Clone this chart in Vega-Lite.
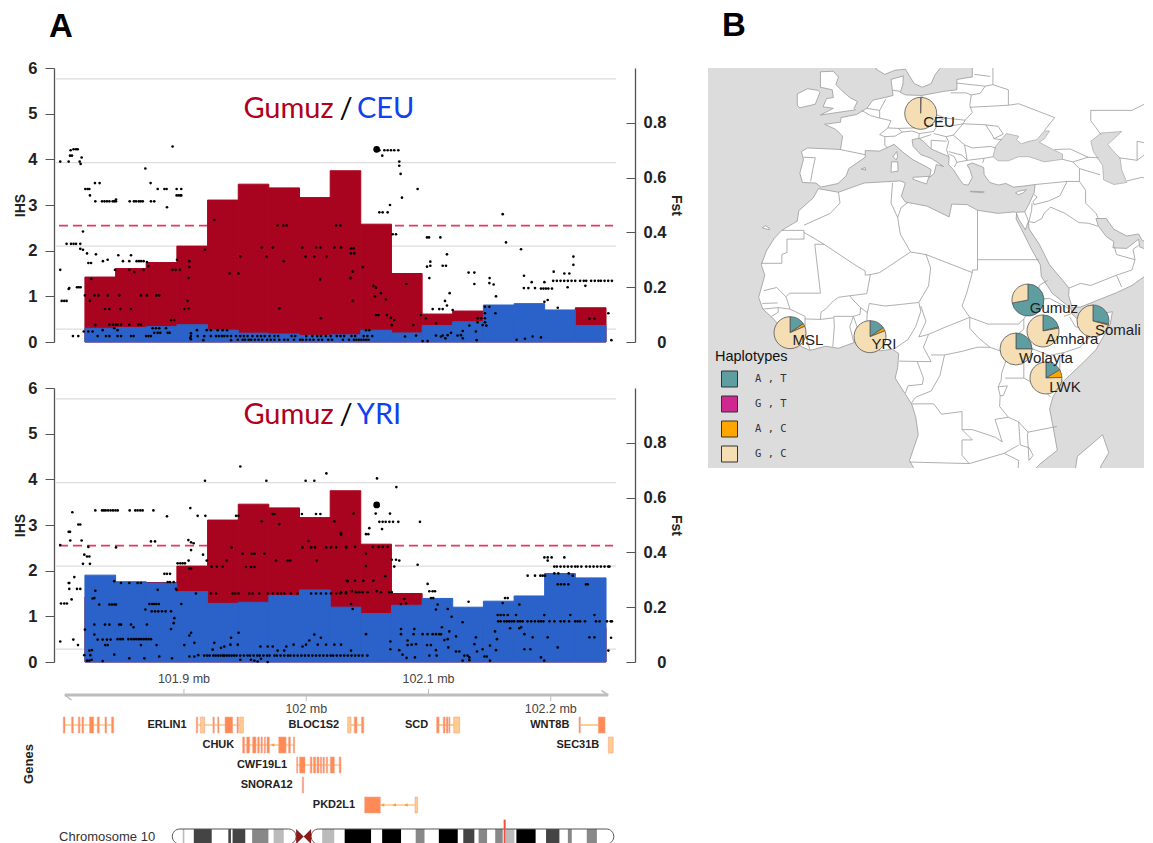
{"$schema":"https://vega.github.io/schema/vega-lite/v6.json","padding":{"left":13,"top":9,"right":9,"bottom":0},"background":"white","config":{"view":{"stroke":null},"font":"Liberation Sans"},
"resolve":{"scale":{"color":"independent"}},
"datasets":{
"lines":[{"ihs":5.76},{"ihs":3.93},{"ihs":2.1},{"ihs":0.28}],
"thresh":[{"ihs":2.55}],
"bars":[
{"start":-81,"end":-55.9,"gumuz":0.237,"ceu":0.05,"yri":0.317},{"start":-55.9,"end":-30.9,"gumuz":0.268,"ceu":0.053,"yri":0.293},{"start":-30.9,"end":-5.8,"gumuz":0.29,"ceu":0.056,"yri":0.288},{"start":-5.8,"end":19.3,"gumuz":0.35,"ceu":0.063,"yri":0.257},{"start":19.3,"end":44.4,"gumuz":0.518,"ceu":0.043,"yri":0.214},{"start":44.4,"end":69.4,"gumuz":0.576,"ceu":0.032,"yri":0.218},{"start":69.4,"end":94.5,"gumuz":0.5625,"ceu":0.029,"yri":0.243},{"start":94.5,"end":119.6,"gumuz":0.527,"ceu":0.024,"yri":0.263},{"start":119.6,"end":144.6,"gumuz":0.625,"ceu":0.026,"yri":0.2},{"start":144.6,"end":169.7,"gumuz":0.43,"ceu":0.043,"yri":0.177},{"start":169.7,"end":194.8,"gumuz":0.25,"ceu":0.033,"yri":0.207},{"start":194.8,"end":219.8,"gumuz":0.102,"ceu":0.06,"yri":0.232},{"start":219.8,"end":244.9,"gumuz":0.113,"ceu":0.074,"yri":0.2},{"start":244.9,"end":270,"gumuz":0.1,"ceu":0.135,"yri":0.222},{"start":270,"end":295,"gumuz":0.08,"ceu":0.14,"yri":0.241},{"start":295,"end":320.1,"gumuz":0.08,"ceu":0.117,"yri":0.323},{"start":320.1,"end":345.2,"gumuz":0.125,"ceu":0.06,"yri":0.307}],
"ceuDots":[
{"kb":-101.2,"ihs":3.95},{"kb":-94.3,"ihs":3.95},{"kb":-93.2,"ihs":4.08},{"kb":-91.6,"ihs":4.08},{"kb":-92.7,"ihs":4.2},{"kb":-90.3,"ihs":4.22},{"kb":-88.3,"ihs":4.22},{"kb":-86.9,"ihs":4.22},{"kb":-83.7,"ihs":4.04},{"kb":-85.3,"ihs":3.95},{"kb":-84.5,"ihs":3.9},{"kb":-80.7,"ihs":3.35},{"kb":-78.8,"ihs":3.35},{"kb":-77.4,"ihs":3.35},{"kb":-76.9,"ihs":3.21},{"kb":-72.8,"ihs":3.48},{"kb":-69,"ihs":3.48},{"kb":-72.5,"ihs":3.08},{"kb":-67,"ihs":3.08},{"kb":-65,"ihs":3.08},{"kb":-63,"ihs":3.08},{"kb":-61,"ihs":3.08},{"kb":-58.3,"ihs":3.08},{"kb":-57,"ihs":3.08},{"kb":-55.6,"ihs":3.08},{"kb":-55.6,"ihs":3.12},{"kb":-44.4,"ihs":3.08},{"kb":-40.9,"ihs":3.08},{"kb":-39.2,"ihs":3.08},{"kb":-37,"ihs":3.08},{"kb":-35.4,"ihs":3.08},{"kb":-33.7,"ihs":3.08},{"kb":-31.6,"ihs":3.8},{"kb":-27.3,"ihs":3.48},{"kb":-27,"ihs":3.08},{"kb":-24.3,"ihs":3.08},{"kb":-21.5,"ihs":3.35},{"kb":-16,"ihs":3.35},{"kb":-14.2,"ihs":3.35},{"kb":-13.9,"ihs":2.95},{"kb":-9.3,"ihs":4.28},{"kb":-6,"ihs":3.35},{"kb":-2.2,"ihs":3.35},{"kb":-6,"ihs":3.21},{"kb":-4.5,"ihs":3.21},{"kb":-3,"ihs":3.21},{"kb":-2.2,"ihs":3.21},
{"kb":-101.2,"ihs":1.58},{"kb":-96,"ihs":2.15},{"kb":-92.4,"ihs":2.15},{"kb":-90.3,"ihs":2.15},{"kb":-88.3,"ihs":2.15},{"kb":-84.8,"ihs":2.15},{"kb":-82.6,"ihs":2.42},{"kb":-84.8,"ihs":2.04},{"kb":-82.6,"ihs":2.02},{"kb":-79.3,"ihs":1.94},{"kb":-72,"ihs":1.92},{"kb":-78.2,"ihs":1.73},{"kb":-76,"ihs":1.73},{"kb":-66.3,"ihs":1.77},{"kb":-62.4,"ihs":1.8},{"kb":-53.7,"ihs":1.9},{"kb":-43.3,"ihs":1.9},{"kb":-56.4,"ihs":1.58},{"kb":-44.7,"ihs":1.58},{"kb":-40.6,"ihs":1.53},{"kb":-49.9,"ihs":1.77},{"kb":-44.7,"ihs":1.77},{"kb":-38.7,"ihs":1.77},{"kb":-36.8,"ihs":1.77},{"kb":-35,"ihs":1.77},{"kb":-33,"ihs":1.77},{"kb":-30.3,"ihs":1.75},{"kb":-33,"ihs":1.58},{"kb":-29.2,"ihs":1.66},{"kb":-9.5,"ihs":1.58},{"kb":-6.8,"ihs":1.58},{"kb":-3.3,"ihs":1.58},{"kb":-5.7,"ihs":1.8},{"kb":4.4,"ihs":1.77},{"kb":4.4,"ihs":1.64},{"kb":3.8,"ihs":1.4},{"kb":17.2,"ihs":2.02},{"kb":24.8,"ihs":2.67},{"kb":37.4,"ihs":1.5},{"kb":44.5,"ihs":1.5},{"kb":46.1,"ihs":1.87},{"kb":63.6,"ihs":2.07},{"kb":72.6,"ihs":2.07},{"kb":67.6,"ihs":1.87},{"kb":76.6,"ihs":2.55},{"kb":81.3,"ihs":2.55},{"kb":84,"ihs":2.55},{"kb":81.6,"ihs":1.77},{"kb":96.8,"ihs":2.07},{"kb":99.5,"ihs":1.87},{"kb":106.6,"ihs":1.87},{"kb":108,"ihs":2.07},{"kb":111.6,"ihs":2.07},{"kb":116.5,"ihs":1.87},{"kb":124.4,"ihs":2.55},{"kb":127.9,"ihs":2.55},{"kb":123,"ihs":2.07},{"kb":128.5,"ihs":2.07},{"kb":111.3,"ihs":1.37},{"kb":78,"ihs":0.74},{"kb":112,"ihs":0.52},{"kb":136,"ihs":1.4},{"kb":136.6,"ihs":1.94},
{"kb":-100,"ihs":0.9},{"kb":-97.9,"ihs":0.9},{"kb":-96,"ihs":0.9},{"kb":-93.8,"ihs":1.18},{"kb":-94.3,"ihs":1.16},{"kb":-87.5,"ihs":1.2},{"kb":-86,"ihs":1.2},{"kb":-84.5,"ihs":1.2},{"kb":-81,"ihs":1.02},{"kb":-73.3,"ihs":1.02},{"kb":-70,"ihs":1.02},{"kb":-76.9,"ihs":0.9},{"kb":-75.8,"ihs":1.38},{"kb":-62.4,"ihs":1.02},{"kb":-52.9,"ihs":1.02},{"kb":-35.2,"ihs":1.02},{"kb":-30.3,"ihs":1.02},{"kb":-22.6,"ihs":1.02},{"kb":-20.2,"ihs":1.02},{"kb":-64.6,"ihs":0.72},{"kb":-61,"ihs":0.72},{"kb":-52,"ihs":0.72},{"kb":-43.3,"ihs":0.72},{"kb":0.3,"ihs":0.72},{"kb":3.6,"ihs":0.74},{"kb":3,"ihs":0.9},
{"kb":-90.8,"ihs":0.13},{"kb":-86.4,"ihs":0.13},{"kb":-82,"ihs":0.23},{"kb":-78.2,"ihs":0.23},{"kb":-74.7,"ihs":0.23},{"kb":-72.5,"ihs":0.37},{"kb":-70.6,"ihs":0.13},{"kb":-66.5,"ihs":0.26},{"kb":-63.8,"ihs":0.13},{"kb":-61,"ihs":0.13},{"kb":-54.3,"ihs":0.13},{"kb":-51.5,"ihs":0.13},{"kb":-61,"ihs":0.38},{"kb":-58,"ihs":0.38},{"kb":-55.6,"ihs":0.38},{"kb":-54.3,"ihs":0.38},{"kb":-51.5,"ihs":0.38},{"kb":-57,"ihs":0.3},{"kb":-54.3,"ihs":0.26},{"kb":-44.7,"ihs":0.38},{"kb":-37.4,"ihs":0.38},{"kb":-35.2,"ihs":0.38},{"kb":-43.3,"ihs":0.13},{"kb":-41.2,"ihs":0.13},{"kb":-31,"ihs":0.13},{"kb":-29,"ihs":0.13},{"kb":-27,"ihs":0.13},{"kb":-25.6,"ihs":0.3},{"kb":-22.9,"ihs":0.3},{"kb":-20.2,"ihs":0.3},{"kb":-14.7,"ihs":0.3},{"kb":-24.3,"ihs":0.2},{"kb":-21.5,"ihs":0.2},{"kb":-19.4,"ihs":0.2},{"kb":-13.3,"ihs":0.2},{"kb":-11.7,"ihs":0.2},{"kb":-10.6,"ihs":0.48},{"kb":-7.9,"ihs":0.48},{"kb":5.7,"ihs":0.19},{"kb":5.7,"ihs":0.13},{"kb":5.7,"ihs":0.06},{"kb":5.2,"ihs":0.09},{"kb":10.6,"ihs":0.26},{"kb":11.2,"ihs":0.13},{"kb":15.8,"ihs":0.04},{"kb":16.6,"ihs":0.13},{"kb":18.6,"ihs":0.26},{"kb":22,"ihs":0.26},{"kb":27.6,"ihs":0.26},{"kb":31.6,"ihs":0.26},{"kb":35.2,"ihs":0.26},{"kb":22,"ihs":0.13},{"kb":26.2,"ihs":0.13},{"kb":28.5,"ihs":0.13},{"kb":31,"ihs":0.13},{"kb":33,"ihs":0.13},{"kb":35.5,"ihs":0.13},{"kb":38.5,"ihs":0.13},{"kb":38.5,"ihs":0.04},
{"kb":42.6,"ihs":0.13},{"kb":46,"ihs":0.13},{"kb":49,"ihs":0.13},{"kb":52,"ihs":0.13},{"kb":56,"ihs":0.13},{"kb":60,"ihs":0.13},{"kb":63,"ihs":0.13},{"kb":66,"ihs":0.13},{"kb":70,"ihs":0.13},{"kb":74,"ihs":0.13},{"kb":77,"ihs":0.13},{"kb":88,"ihs":0.13},{"kb":91,"ihs":0.13},{"kb":100,"ihs":0.13},{"kb":105,"ihs":0.13},{"kb":109,"ihs":0.13},{"kb":112,"ihs":0.13},{"kb":116,"ihs":0.13},{"kb":120,"ihs":0.13},{"kb":125,"ihs":0.13},{"kb":128,"ihs":0.13},{"kb":131,"ihs":0.13},{"kb":137,"ihs":0.13},{"kb":140,"ihs":0.13},{"kb":147,"ihs":0.13},{"kb":150,"ihs":0.13},{"kb":154,"ihs":0.13},
{"kb":44,"ihs":0.05},{"kb":48,"ihs":0.05},{"kb":50,"ihs":0.05},{"kb":53,"ihs":0.05},{"kb":55,"ihs":0.05},{"kb":58,"ihs":0.05},{"kb":61,"ihs":0.05},{"kb":64,"ihs":0.05},{"kb":68,"ihs":0.05},{"kb":71,"ihs":0.05},{"kb":74,"ihs":0.05},{"kb":78,"ihs":0.05},{"kb":82,"ihs":0.05},{"kb":85,"ihs":0.05},{"kb":90,"ihs":0.05},{"kb":95,"ihs":0.05},{"kb":97,"ihs":0.05},{"kb":100,"ihs":0.05},{"kb":103,"ihs":0.05},{"kb":106,"ihs":0.05},{"kb":110,"ihs":0.05},{"kb":113,"ihs":0.05},{"kb":118,"ihs":0.05},{"kb":121,"ihs":0.05},{"kb":130,"ihs":0.05},{"kb":135,"ihs":0.05},{"kb":139,"ihs":0.05},{"kb":141,"ihs":0.05},{"kb":143,"ihs":0.05},{"kb":145,"ihs":0.05},{"kb":147,"ihs":0.05},{"kb":149,"ihs":0.05},{"kb":151,"ihs":0.05},{"kb":148.9,"ihs":0.26},{"kb":151.6,"ihs":0.26},
{"kb":159.8,"ihs":4.2},{"kb":163.9,"ihs":4.2},{"kb":166.6,"ihs":4.2},{"kb":169.3,"ihs":4.2},{"kb":172,"ihs":4.2},{"kb":175.3,"ihs":4.2},{"kb":162.2,"ihs":4.08},{"kb":176.1,"ihs":3.95},{"kb":176.1,"ihs":3.86},{"kb":177.2,"ihs":3.68},{"kb":191.1,"ihs":3.35},{"kb":178.3,"ihs":3.16},{"kb":168.5,"ihs":3},{"kb":159.8,"ihs":2.84},{"kb":162.5,"ihs":2.84},{"kb":166.6,"ihs":2.84},{"kb":170.7,"ihs":2.36},{"kb":173.4,"ihs":2.36},{"kb":198.8,"ihs":2.29},{"kb":200.4,"ihs":2.29},{"kb":209.7,"ihs":2.29},{"kb":215.1,"ihs":1.92},{"kb":201.5,"ihs":1.76},{"kb":201.5,"ihs":1.67},{"kb":198.8,"ihs":1.65},{"kb":211.6,"ihs":1.67},{"kb":214.3,"ihs":1.67},{"kb":200.7,"ihs":1.4},{"kb":232.8,"ihs":1.52},{"kb":237.5,"ihs":1.52},{"kb":237.5,"ihs":1.27},{"kb":250,"ihs":1.4},{"kb":249.8,"ihs":1.29},{"kb":253.3,"ihs":1.26},{"kb":217.3,"ihs":1.07},{"kb":213.5,"ihs":0.9},{"kb":215.1,"ihs":0.8},{"kb":219.8,"ihs":0.7},{"kb":203.4,"ihs":0.72},{"kb":208.8,"ihs":0.72},{"kb":211.6,"ihs":0.72},{"kb":181.8,"ihs":1.27},{"kb":154.9,"ihs":1.23},{"kb":157,"ihs":1.19},{"kb":156.2,"ihs":1},{"kb":161.1,"ihs":1.07},{"kb":165.2,"ihs":0.93},{"kb":136.6,"ihs":2.05},{"kb":138.8,"ihs":2.05},{"kb":139.3,"ihs":1.94},{"kb":136.6,"ihs":1.4},{"kb":138,"ihs":1.54},{"kb":138,"ihs":0.9},{"kb":146.1,"ihs":1.64},{"kb":255.2,"ihs":1},{"kb":260.7,"ihs":2.8},{"kb":263.4,"ihs":2.18},{"kb":275.7,"ihs":2.03},{"kb":278.1,"ihs":1.45},{"kb":278,"ihs":1.18},{"kb":281.7,"ihs":1.18},{"kb":287.1,"ihs":1.18},{"kb":284.4,"ihs":1.31},{"kb":292,"ihs":1.17},{"kb":294,"ihs":1.17},{"kb":296,"ihs":1.17},{"kb":298,"ihs":1.17},{"kb":301,"ihs":1.17},{"kb":294.8,"ihs":1.31},{"kb":302.4,"ihs":1.54},{"kb":311.1,"ihs":1.5},
{"kb":302,"ihs":1.34},{"kb":305,"ihs":1.34},{"kb":308,"ihs":1.34},{"kb":311,"ihs":1.34},{"kb":314,"ihs":1.34},{"kb":317,"ihs":1.34},{"kb":320,"ihs":1.34},{"kb":324,"ihs":1.34},{"kb":327,"ihs":1.34},{"kb":329,"ihs":1.34},{"kb":333,"ihs":1.34},{"kb":336,"ihs":1.34},{"kb":339,"ihs":1.34},{"kb":341,"ihs":1.34},{"kb":344,"ihs":1.34},{"kb":347,"ihs":1.34},{"kb":350,"ihs":1.34},{"kb":318.5,"ihs":1.87},{"kb":318.5,"ihs":1.69},{"kb":315.2,"ihs":1.5},{"kb":313.8,"ihs":1.2},{"kb":328.3,"ihs":1.23},{"kb":294.8,"ihs":0.88},{"kb":297.5,"ihs":0.92},{"kb":305.7,"ihs":0.75},{"kb":347.1,"ihs":0.63},{"kb":349.6,"ihs":0.04},{"kb":331.6,"ihs":0.51},{"kb":335.7,"ihs":0.51},{"kb":285.2,"ihs":0.12},{"kb":292,"ihs":0.1},{"kb":272.1,"ihs":0.05},{"kb":278.9,"ihs":0.07},{"kb":254.7,"ihs":0.63},{"kb":240.2,"ihs":0.52},{"kb":243,"ihs":0.52},{"kb":246.2,"ihs":0.77},{"kb":249.8,"ihs":0.77},{"kb":246.2,"ihs":0.63},{"kb":246.2,"ihs":0.52},{"kb":246.2,"ihs":0.43},{"kb":244.3,"ihs":0.37},{"kb":247.3,"ihs":0.36},{"kb":240.2,"ihs":0.43},{"kb":239.4,"ihs":0.04},{"kb":233.4,"ihs":0.36},{"kb":238.8,"ihs":0.23},{"kb":211.6,"ihs":0.14},{"kb":210.2,"ihs":0.12},{"kb":215.7,"ihs":0.15},{"kb":218.4,"ihs":0.2},{"kb":223.8,"ihs":0.14},{"kb":226.6,"ihs":0.15},{"kb":228,"ihs":0.08},{"kb":228,"ihs":0.24},{"kb":195.2,"ihs":0.02},{"kb":199.3,"ihs":0.02},{"kb":180.8,"ihs":0.12},{"kb":189.8,"ihs":0.14},{"kb":206.1,"ihs":0.14},{"kb":213.8,"ihs":0.08},{"kb":206.1,"ihs":0.41},{"kb":193.8,"ihs":0.59},{"kb":197.9,"ihs":0.52},{"kb":187.6,"ihs":0.37},{"kb":157,"ihs":0.59},{"kb":159,"ihs":0.59},{"kb":166,"ihs":0.59},{"kb":169.3,"ihs":0.53},{"kb":172,"ihs":0.48},{"kb":169.9,"ihs":0.37}],
"yriDots":[
{"kb":-101.2,"ihs":2.56},{"kb":-91.3,"ihs":3.28},{"kb":-93.2,"ihs":2.85},{"kb":-94.3,"ihs":2.85},{"kb":-93,"ihs":2.66},{"kb":-86.4,"ihs":3.01},{"kb":-84.8,"ihs":3.01},{"kb":-83.7,"ihs":2.66},{"kb":-78.2,"ihs":2.52},{"kb":-81.5,"ihs":2.35},{"kb":-79.3,"ihs":2.31},{"kb":-77.4,"ihs":2.31},{"kb":-82.6,"ihs":2.15},{"kb":-76.9,"ihs":2.15},{"kb":-89.7,"ihs":1.86},{"kb":-94.3,"ihs":1.73},{"kb":-93.8,"ihs":1.73},{"kb":-93.8,"ihs":1.6},{"kb":-87.5,"ihs":1.6},{"kb":-84.8,"ihs":1.6},{"kb":-100.6,"ihs":1.28},{"kb":-97.9,"ihs":1.28},{"kb":-95.7,"ihs":1.28},{"kb":-91.9,"ihs":1.37},{"kb":-101.2,"ihs":0.45},{"kb":-90.5,"ihs":0.49},{"kb":-86.7,"ihs":0.37},
{"kb":-72.5,"ihs":3.32},{"kb":-67,"ihs":3.32},{"kb":-65.5,"ihs":3.32},{"kb":-64,"ihs":3.32},{"kb":-62,"ihs":3.32},{"kb":-60,"ihs":3.32},{"kb":-58,"ihs":3.32},{"kb":-56,"ihs":3.32},{"kb":-54.2,"ihs":3.32},{"kb":-44.4,"ihs":3.32},{"kb":-39.8,"ihs":3.32},{"kb":-37.9,"ihs":3.32},{"kb":-35.7,"ihs":3.32},{"kb":-33.8,"ihs":3.32},{"kb":-25,"ihs":3.32},{"kb":-13.9,"ihs":3.19},{"kb":-55.6,"ihs":2.51},{"kb":-27,"ihs":2.64},{"kb":-23.7,"ihs":2.64},{"kb":5.2,"ihs":3.37},{"kb":11.2,"ihs":3.2},{"kb":17.5,"ihs":3.2},{"kb":17.2,"ihs":3.97},{"kb":3.6,"ihs":2.67},{"kb":5.8,"ihs":2.62},{"kb":7.9,"ihs":2.6},{"kb":5.8,"ihs":2.45},{"kb":15.6,"ihs":2.35},{"kb":18.6,"ihs":2.22},{"kb":-5.2,"ihs":2.16},{"kb":-3,"ihs":2.16},{"kb":-1.1,"ihs":2.16},{"kb":0.8,"ihs":2.16},{"kb":3.8,"ihs":2.22},{"kb":4.4,"ihs":2.05},{"kb":5.8,"ihs":2.05},{"kb":-16,"ihs":1.93},{"kb":-13.9,"ihs":1.93},{"kb":-11.4,"ihs":1.93},{"kb":-13.3,"ihs":1.75},{"kb":-11.4,"ihs":1.75},{"kb":-8.4,"ihs":1.75},{"kb":-21.5,"ihs":1.58},{"kb":-6.5,"ihs":1.6},{"kb":-6,"ihs":1.58},{"kb":9.8,"ihs":1.5},{"kb":-73.3,"ihs":1.4},{"kb":-74.7,"ihs":1.39},{"kb":-72.5,"ihs":1.56},{"kb":-69.3,"ihs":1.26},{"kb":-61,"ihs":1.26},{"kb":-59,"ihs":1.26},{"kb":-57,"ihs":1.26},{"kb":-55.6,"ihs":1.26},{"kb":-57,"ihs":1.77},{"kb":-51.5,"ihs":1.73},{"kb":-44.7,"ihs":1.73},{"kb":-37.9,"ihs":1.73},{"kb":-35.2,"ihs":1.73},{"kb":-31.6,"ihs":1.15},{"kb":-28.3,"ihs":1.27},{"kb":-26,"ihs":1.27},{"kb":-24.3,"ihs":1.27},{"kb":-22.6,"ihs":1.27},{"kb":-20.6,"ihs":1.27},{"kb":-26.4,"ihs":1.11},{"kb":-23.7,"ihs":1.11},{"kb":-21,"ihs":1.11},{"kb":-18,"ihs":1.11},{"kb":-15,"ihs":1.11},{"kb":-10.6,"ihs":1.11},{"kb":-2.2,"ihs":1.27},{"kb":-7.9,"ihs":0.96},{"kb":-8.4,"ihs":0.85},{"kb":-10.6,"ihs":0.72},{"kb":-81,"ihs":0.71},{"kb":-73.3,"ihs":0.82},{"kb":-64.6,"ihs":0.82},{"kb":-61,"ihs":0.82},{"kb":-52.9,"ihs":0.82},{"kb":-51.5,"ihs":0.82},{"kb":-43.3,"ihs":0.82},{"kb":-41.2,"ihs":0.76},{"kb":-30.3,"ihs":0.82},{"kb":-73.3,"ihs":0.6},{"kb":-70.6,"ihs":0.49},{"kb":-66.5,"ihs":0.49},{"kb":-63,"ihs":0.49},{"kb":-60,"ihs":0.49},{"kb":-54.3,"ihs":0.5},{"kb":-52,"ihs":0.5},{"kb":-50,"ihs":0.5},{"kb":-45.5,"ihs":0.5},{"kb":-43,"ihs":0.5},{"kb":-41,"ihs":0.5},{"kb":-39,"ihs":0.5},{"kb":-37,"ihs":0.5},{"kb":-35,"ihs":0.5},{"kb":-33,"ihs":0.5},{"kb":-31,"ihs":0.5},{"kb":-29,"ihs":0.5},{"kb":-27,"ihs":0.5},{"kb":-64.4,"ihs":0.37},{"kb":-62.4,"ihs":0.37},{"kb":-35.2,"ihs":0.37},{"kb":-22.4,"ihs":0.37},{"kb":-57,"ihs":0.16},{"kb":-44.7,"ihs":0.08},{"kb":-32.4,"ihs":0.08},{"kb":-20.2,"ihs":0.12},{"kb":-9.8,"ihs":0.08},{"kb":-81.5,"ihs":0.15},{"kb":-76.6,"ihs":0.15},{"kb":-77.4,"ihs":0.25},{"kb":-75.3,"ihs":0.26},{"kb":-79.3,"ihs":0.03},{"kb":-77.4,"ihs":0.03},{"kb":-75.5,"ihs":0.05},{"kb":-66.5,"ihs":0.02},{"kb":0.3,"ihs":0.37},{"kb":4.4,"ihs":0.58},{"kb":5.8,"ihs":0.64},{"kb":8.5,"ihs":0.42},{"kb":4.4,"ihs":0.12},{"kb":8.5,"ihs":0.12},{"kb":11.7,"ihs":0.15},
{"kb":16.6,"ihs":0.14},{"kb":19,"ihs":0.14},{"kb":21,"ihs":0.14},{"kb":24,"ihs":0.14},{"kb":26,"ihs":0.14},{"kb":28,"ihs":0.14},{"kb":30,"ihs":0.14},{"kb":32,"ihs":0.14},{"kb":33,"ihs":0.14},{"kb":35,"ihs":0.14},{"kb":37,"ihs":0.14},{"kb":39,"ihs":0.14},{"kb":41,"ihs":0.14},{"kb":43,"ihs":0.14},{"kb":46,"ihs":0.14},{"kb":49,"ihs":0.14},{"kb":52,"ihs":0.14},{"kb":54,"ihs":0.14},{"kb":57,"ihs":0.14},{"kb":60,"ihs":0.14},{"kb":62,"ihs":0.14},{"kb":65,"ihs":0.14},{"kb":68,"ihs":0.14},{"kb":70,"ihs":0.14},{"kb":74,"ihs":0.14},{"kb":76,"ihs":0.14},{"kb":79,"ihs":0.14},{"kb":82,"ihs":0.14},{"kb":85,"ihs":0.14},{"kb":87,"ihs":0.14},{"kb":90,"ihs":0.14},{"kb":93,"ihs":0.14},{"kb":96,"ihs":0.14},{"kb":99,"ihs":0.14},{"kb":102,"ihs":0.14},{"kb":105,"ihs":0.14},{"kb":108,"ihs":0.14},{"kb":111,"ihs":0.14},{"kb":114,"ihs":0.14},{"kb":117,"ihs":0.14},{"kb":120,"ihs":0.14},{"kb":122,"ihs":0.14},{"kb":125,"ihs":0.14},{"kb":128,"ihs":0.14},{"kb":131,"ihs":0.14},{"kb":134,"ihs":0.14},{"kb":137,"ihs":0.14},{"kb":140,"ihs":0.14},{"kb":143,"ihs":0.14},{"kb":146,"ihs":0.14},{"kb":150,"ihs":0.14},
{"kb":24.8,"ihs":0.42},{"kb":23.5,"ihs":0.27},{"kb":30.3,"ihs":0.31},{"kb":33,"ihs":0.34},{"kb":38.5,"ihs":0.53},{"kb":38,"ihs":0.38},{"kb":44,"ihs":0.38},{"kb":44.7,"ihs":0.64},{"kb":46.1,"ihs":0.05},{"kb":54.8,"ihs":0.05},{"kb":57.6,"ihs":0.03},{"kb":60.3,"ihs":0.01},{"kb":63,"ihs":0.07},{"kb":68.5,"ihs":0},{"kb":62.5,"ihs":0.34},{"kb":68.5,"ihs":0.34},{"kb":72.6,"ihs":0.34},{"kb":76.6,"ihs":0.25},{"kb":82,"ihs":0.25},{"kb":83.7,"ihs":0.34},{"kb":89.7,"ihs":0.38},{"kb":97,"ihs":0.34},{"kb":99.8,"ihs":0.38},{"kb":102.5,"ihs":0.47},{"kb":106.6,"ihs":0.6},{"kb":112,"ihs":0.53},{"kb":109.4,"ihs":0.38},{"kb":116.2,"ihs":0.38},{"kb":123,"ihs":0.38},{"kb":128.5,"ihs":0.38},{"kb":136.6,"ihs":0.25},
{"kb":22,"ihs":1.5},{"kb":26.2,"ihs":1.5},{"kb":39.8,"ihs":1.5},{"kb":42,"ihs":1.5},{"kb":44.5,"ihs":1.5},{"kb":53.5,"ihs":1.5},{"kb":56.2,"ihs":1.5},{"kb":61.6,"ihs":1.5},{"kb":68.5,"ihs":1.5},{"kb":72.6,"ihs":1.5},{"kb":76.6,"ihs":1.5},{"kb":79.4,"ihs":1.5},{"kb":82.1,"ihs":1.5},{"kb":87.5,"ihs":1.5},{"kb":93,"ihs":1.5},{"kb":104,"ihs":1.5},{"kb":108,"ihs":1.5},{"kb":112,"ihs":1.5},{"kb":116.2,"ihs":1.5},{"kb":120.3,"ihs":1.5},{"kb":124.4,"ihs":1.5},{"kb":127.9,"ihs":1.5},{"kb":132.5,"ihs":1.5},{"kb":22.6,"ihs":2.09},{"kb":27,"ihs":2.09},{"kb":31.6,"ihs":2.09},{"kb":35,"ihs":2.22},{"kb":39,"ihs":2.51},{"kb":42.6,"ihs":3.2},{"kb":44.5,"ihs":3.2},{"kb":63.6,"ihs":3.08},{"kb":72.6,"ihs":3.24},{"kb":74,"ihs":3.24},{"kb":78,"ihs":3.02},{"kb":96.5,"ihs":3.24},{"kb":108,"ihs":3.24},{"kb":111.6,"ihs":3.24},{"kb":123,"ihs":3.08},{"kb":128.5,"ihs":2.79},{"kb":46.1,"ihs":4.28},{"kb":67.4,"ihs":3.97},{"kb":99.5,"ihs":3.97},{"kb":106.6,"ihs":3.97},{"kb":116.5,"ihs":4.13},{"kb":48,"ihs":2.37},{"kb":55.4,"ihs":2.37},{"kb":57.6,"ihs":2.37},{"kb":65.7,"ihs":2.37},{"kb":50.7,"ihs":2.08},{"kb":54.8,"ihs":2.08},{"kb":57.6,"ihs":2.08},{"kb":75.3,"ihs":2.22},{"kb":84.8,"ihs":2.22},{"kb":87,"ihs":2.22},{"kb":97,"ihs":2.51},{"kb":104,"ihs":2.51},{"kb":107.2,"ihs":2.51},{"kb":116.2,"ihs":2.51},{"kb":120.3,"ihs":2.51},{"kb":124.4,"ihs":2.51},{"kb":132.8,"ihs":2.51},{"kb":101.7,"ihs":2.65},{"kb":108.6,"ihs":2.22},{"kb":133.9,"ihs":1.77},
{"kb":157.9,"ihs":4.02},{"kb":173.7,"ihs":3.83},{"kb":156.8,"ihs":3.25},{"kb":168.5,"ihs":3.25},{"kb":138.8,"ihs":3.25},{"kb":159.8,"ihs":3.07},{"kb":162.5,"ihs":3.07},{"kb":165,"ihs":3.07},{"kb":168,"ihs":3.07},{"kb":171,"ihs":3.07},{"kb":175.3,"ihs":3.07},{"kb":193,"ihs":3.07},{"kb":151.6,"ihs":2.93},{"kb":162,"ihs":2.91},{"kb":148.9,"ihs":2.8},{"kb":150.8,"ihs":2.8},{"kb":128.4,"ihs":2.82},{"kb":132.5,"ihs":2.52},{"kb":139.9,"ihs":2.52},{"kb":148.9,"ihs":2.37},{"kb":154.3,"ihs":2.52},{"kb":159.2,"ihs":2.52},{"kb":162.5,"ihs":2.52},{"kb":166.6,"ihs":2.52},{"kb":148.9,"ihs":2.1},{"kb":169.9,"ihs":2.24},{"kb":173.4,"ihs":2.24},{"kb":176.1,"ihs":2.22},{"kb":172,"ihs":2.09},{"kb":191.1,"ihs":2.13},{"kb":164.7,"ihs":1.88},{"kb":133.3,"ihs":1.78},{"kb":139.9,"ihs":1.78},{"kb":146.7,"ihs":1.78},{"kb":154.9,"ihs":1.78},{"kb":128.4,"ihs":1.53},{"kb":132.5,"ihs":1.53},{"kb":137.4,"ihs":1.55},{"kb":140.7,"ihs":1.53},{"kb":143.4,"ihs":1.53},{"kb":146.1,"ihs":1.53},{"kb":150.2,"ihs":1.53},{"kb":157.6,"ihs":1.55},{"kb":161.1,"ihs":1.53},{"kb":167.9,"ihs":1.53},{"kb":169.9,"ihs":1.53},{"kb":136.6,"ihs":1.27},{"kb":138,"ihs":1.16},{"kb":148.9,"ihs":0.61},{"kb":180.2,"ihs":1.38},{"kb":177.5,"ihs":1.27},{"kb":181.6,"ihs":1.28},{"kb":199.3,"ihs":1.71},{"kb":200.7,"ihs":1.55},{"kb":203.4,"ihs":1.55},{"kb":205.3,"ihs":1.55},{"kb":202,"ihs":1.4},{"kb":203.9,"ihs":1.4},{"kb":207.5,"ihs":1.26},{"kb":206.1,"ihs":1.15},{"kb":215.7,"ihs":1.16},{"kb":218.9,"ihs":0.99},{"kb":232.8,"ihs":1.32},{"kb":227.9,"ihs":0.87},{"kb":177.5,"ihs":0.72},{"kb":177.5,"ihs":0.61},{"kb":188.4,"ihs":0.72},{"kb":187.8,"ihs":0.61},{"kb":195.2,"ihs":0.61},{"kb":199.3,"ihs":0.61},{"kb":203.4,"ihs":0.61},{"kb":206.1,"ihs":0.61},{"kb":208.8,"ihs":0.61},{"kb":210.2,"ihs":0.61},{"kb":211,"ihs":0.76},{"kb":217,"ihs":0.67},{"kb":215.7,"ihs":0.5},{"kb":213,"ihs":0.48},{"kb":222.5,"ihs":0.56},{"kb":182.9,"ihs":0.47},{"kb":182.9,"ihs":0.37},{"kb":186.2,"ihs":0.38},{"kb":189.8,"ihs":0.39},{"kb":168.8,"ihs":0.45},{"kb":168.8,"ihs":0.28},{"kb":176.1,"ihs":0.26},{"kb":178.8,"ihs":0.16},{"kb":182.1,"ihs":0.09},{"kb":188.9,"ihs":0.1},{"kb":198.8,"ihs":0.37},{"kb":202,"ihs":0.37},{"kb":206.1,"ihs":0.26},{"kb":200.7,"ihs":0.14},{"kb":206.7,"ihs":0.14},{"kb":216.2,"ihs":0.32},{"kb":222.5,"ihs":0.23},{"kb":225.2,"ihs":0.23},{"kb":229.3,"ihs":0.14},{"kb":232,"ihs":0.14},{"kb":233.4,"ihs":0.04},{"kb":227.9,"ihs":0.03},{"kb":233.4,"ihs":0.1},{"kb":238.8,"ihs":0.54},{"kb":237.5,"ihs":0.39},{"kb":239.7,"ihs":0.23},{"kb":244.3,"ihs":0.28},{"kb":245.7,"ihs":0.12},{"kb":247.6,"ihs":0.12},{"kb":250.3,"ihs":0.03},{"kb":250.3,"ihs":0.36},{"kb":254.4,"ihs":0.67},{"kb":256,"ihs":0.5},{"kb":255.2,"ihs":0.26},{"kb":256.6,"ihs":1.03},{"kb":259,"ihs":1.03},{"kb":261.6,"ihs":1.03},{"kb":264.8,"ihs":1.03},{"kb":271.6,"ihs":1.03},{"kb":294.7,"ihs":1.03},{"kb":316,"ihs":1.03},
{"kb":257,"ihs":0.89},{"kb":259,"ihs":0.89},{"kb":262,"ihs":0.89},{"kb":264,"ihs":0.89},{"kb":266,"ihs":0.89},{"kb":268,"ihs":0.89},{"kb":270,"ihs":0.89},{"kb":273,"ihs":0.89},{"kb":275,"ihs":0.89},{"kb":277,"ihs":0.89},{"kb":281,"ihs":0.89},{"kb":284,"ihs":0.89},{"kb":287,"ihs":0.89},{"kb":290,"ihs":0.89},{"kb":292,"ihs":0.89},{"kb":294,"ihs":0.89},{"kb":299,"ihs":0.89},{"kb":303,"ihs":0.89},{"kb":308,"ihs":0.89},{"kb":311,"ihs":0.89},{"kb":315,"ihs":0.89},{"kb":320,"ihs":0.89},{"kb":322,"ihs":0.89},{"kb":324,"ihs":0.89},{"kb":328,"ihs":0.89},{"kb":337,"ihs":0.89},{"kb":340,"ihs":0.89},{"kb":346,"ihs":0.89},{"kb":349,"ihs":0.89},{"kb":350,"ihs":0.89},{"kb":275.7,"ihs":0.76},{"kb":266.7,"ihs":0.74},{"kb":274.3,"ihs":0.74},{"kb":278.4,"ihs":0.61},{"kb":285.2,"ihs":0.54},{"kb":297.5,"ihs":0.54},{"kb":305.7,"ihs":0.32},{"kb":278.4,"ihs":0.28},{"kb":283.3,"ihs":0.28},{"kb":292,"ihs":0.1},{"kb":294.7,"ihs":0.03},{"kb":260.7,"ihs":1.29},{"kb":262.6,"ihs":1.4},{"kb":264.8,"ihs":1.4},{"kb":274.3,"ihs":1.26},{"kb":281.1,"ihs":1.89},{"kb":287.1,"ihs":1.89},{"kb":291.5,"ihs":1.89},{"kb":293.4,"ihs":1.89},{"kb":295.3,"ihs":1.89},{"kb":302.9,"ihs":1.94},{"kb":306.2,"ihs":1.94},{"kb":314.7,"ihs":1.94},{"kb":318,"ihs":1.89},{"kb":294.8,"ihs":2.29},{"kb":297.5,"ihs":2.29},{"kb":300.7,"ihs":2.29},{"kb":311.1,"ihs":2.29},{"kb":297.5,"ihs":2.22},
{"kb":302.9,"ihs":2.09},{"kb":305,"ihs":2.09},{"kb":308,"ihs":2.09},{"kb":311,"ihs":2.09},{"kb":314,"ihs":2.09},{"kb":317,"ihs":2.09},{"kb":320,"ihs":2.09},{"kb":322,"ihs":2.09},{"kb":325,"ihs":2.09},{"kb":329,"ihs":2.09},{"kb":332,"ihs":2.09},{"kb":335,"ihs":2.09},{"kb":338,"ihs":2.09},{"kb":341,"ihs":2.09},{"kb":344,"ihs":2.09},{"kb":347,"ihs":2.09},{"kb":348,"ihs":2.09},{"kb":305.7,"ihs":1.7},{"kb":308.4,"ihs":1.7},{"kb":311.1,"ihs":1.7},{"kb":328.8,"ihs":1.7},{"kb":330.2,"ihs":1.7},{"kb":314.4,"ihs":1.7},{"kb":335.7,"ihs":1.03},{"kb":331.6,"ihs":0.54},{"kb":335.7,"ihs":0.54},{"kb":349.3,"ihs":0.53},{"kb":347.1,"ihs":0.25}],
"introns":[{"start":-98.7,"end":-57.3,"r":1},{"start":10.1,"end":48.6,"r":1},{"start":48,"end":90.5,"r":2},{"start":92.2,"end":128.4,"r":3},{"start":160.6,"end":189,"r":5},{"start":133.9,"end":147,"r":1},{"start":206.7,"end":225.5,"r":1},{"start":324.2,"end":338.9,"r":1}],
"exons":[
{"start":-98.7,"end":-97.3,"r":1,"kind":"cds"},{"start":-91.9,"end":-90.5,"r":1,"kind":"cds"},{"start":-86.4,"end":-85.1,"r":1,"kind":"cds"},{"start":-83.4,"end":-82.1,"r":1,"kind":"cds"},{"start":-77.2,"end":-73.9,"r":1,"kind":"cds"},{"start":-70.9,"end":-69.3,"r":1,"kind":"cds"},{"start":-64.6,"end":-63.3,"r":1,"kind":"cds"},{"start":-59.2,"end":-57.5,"r":1,"kind":"cds"},
{"start":10.1,"end":11.2,"r":1,"kind":"cds"},{"start":13.4,"end":16.9,"r":1,"kind":"utr"},{"start":23.7,"end":24.8,"r":1,"kind":"cds"},{"start":27.6,"end":28.6,"r":1,"kind":"cds"},{"start":33.6,"end":39.8,"r":1,"kind":"cds"},{"start":43.4,"end":44.5,"r":1,"kind":"cds"},{"start":45.6,"end":48.6,"r":1,"kind":"utr"},
{"start":48,"end":49.6,"r":2,"kind":"cds"},{"start":51.3,"end":53.7,"r":2,"kind":"cds"},{"start":56.2,"end":58.9,"r":2,"kind":"cds"},{"start":60.3,"end":61.6,"r":2,"kind":"cds"},{"start":63,"end":64.1,"r":2,"kind":"cds"},{"start":65.7,"end":66.6,"r":2,"kind":"cds"},{"start":67.9,"end":69.8,"r":2,"kind":"cds"},{"start":77.5,"end":83.5,"r":2,"kind":"cds"},{"start":85.6,"end":87,"r":2,"kind":"cds"},{"start":89.5,"end":90.5,"r":2,"kind":"cds"},
{"start":92.2,"end":93,"r":3,"kind":"cds"},{"start":94.6,"end":99,"r":3,"kind":"cds"},{"start":103.3,"end":104.7,"r":3,"kind":"cds"},{"start":106,"end":107.7,"r":3,"kind":"cds"},{"start":108.8,"end":110.4,"r":3,"kind":"cds"},{"start":111.5,"end":112.6,"r":3,"kind":"cds"},{"start":113.7,"end":114.8,"r":3,"kind":"cds"},{"start":116.4,"end":117.5,"r":3,"kind":"cds"},{"start":119.7,"end":123,"r":3,"kind":"cds"},{"start":127,"end":128.4,"r":3,"kind":"cds"},
{"start":96.8,"end":97.9,"r":4,"kind":"rna"},{"start":147.8,"end":160.6,"r":5,"kind":"cds"},{"start":189,"end":191.1,"r":5,"kind":"utr"},{"start":133.9,"end":136.6,"r":1,"kind":"utr"},{"start":139.3,"end":141.5,"r":1,"kind":"cds"},{"start":145.3,"end":147,"r":1,"kind":"cds"},{"start":206.7,"end":208.6,"r":1,"kind":"cds"},{"start":212.1,"end":213.5,"r":1,"kind":"cds"},{"start":214.6,"end":216,"r":1,"kind":"cds"},{"start":216.8,"end":217.6,"r":1,"kind":"cds"},{"start":220.6,"end":225.5,"r":1,"kind":"utr"},{"start":323.1,"end":324.2,"r":1,"kind":"rna"},{"start":338.9,"end":344.4,"r":1,"kind":"cds"},{"start":347.1,"end":351,"r":2,"kind":"utr"}],
"geneLabels":[{"gene":"ERLIN1","kb":2.2,"r":1},{"gene":"CHUK","kb":41.1,"r":2},{"gene":"CWF19L1","kb":84.3,"r":3},{"gene":"SNORA12","kb":88.9,"r":4},{"gene":"PKD2L1","kb":139.9,"r":5},{"gene":"BLOC1S2","kb":127,"r":1},{"gene":"SCD","kb":199.8,"r":1},{"gene":"WNT8B","kb":315.2,"r":1},{"gene":"SEC31B","kb":339.7,"r":2}],
"mbTicks":[{"kb":0,"label":"101.9 mb","r":-1.3,"r1":-0.5,"r2":-0.8},{"kb":100,"label":"102 mb","r":0.2,"r1":-0.5,"r2":-0.2},{"kb":200,"label":"102.1 mb","r":-1.3,"r1":-0.5,"r2":-0.8},{"kb":300,"label":"102.2 mb","r":0.2,"r1":-0.5,"r2":-0.2}],
"bands":[{"start":3.2,"end":3.7,"stain":"light"},{"start":6.6,"end":12.1,"stain":"dark"},{"start":17.2,"end":18,"stain":"dark"},{"start":18.5,"end":22.4,"stain":"dark"},{"start":24.5,"end":29.5,"stain":"mid"},{"start":31.1,"end":34.2,"stain":"light"},{"start":46,"end":49.7,"stain":"light"},{"start":52.9,"end":61,"stain":"black"},{"start":64.4,"end":70.2,"stain":"black"},{"start":74.7,"end":77.4,"stain":"mid"},{"start":81.8,"end":87.6,"stain":"black"},{"start":89.3,"end":92.7,"stain":"dark"},{"start":94,"end":96.6,"stain":"mid"},{"start":99.1,"end":101.4,"stain":"mid"},{"start":102.4,"end":105,"stain":"light"},{"start":105.6,"end":111.5,"stain":"black"},{"start":114.7,"end":118.8,"stain":"dark"},{"start":121.4,"end":122.6,"stain":"mid"},{"start":127.2,"end":130.3,"stain":"mid"}],
"arms":[{"start":0,"end":38},{"start":42.6,"end":135.5}],
"land":[
{"type":"Feature","geometry":{"type":"Polygon","coordinates":[[[-5.9,35.8],[-2,35.1],[3,36.9],[10,37.3],[11,36.9],[10.2,34.3],[11,33.2],[15.2,32.4],[19.5,30.3],[20,32.8],[23,32.7],[25,31.6],[29,31],[32.3,31.3],[32.6,31],[32.5,29.9],[33.6,27.8],[35.5,24],[37.2,21],[37.4,18.7],[39.5,15.5],[43.2,12.5],[43.3,11.5],[44.5,10.4],[47,11.1],[51.2,11.9],[50.8,9.5],[48,4.5],[45.5,2],[41.6,-1.7],[39.7,-4.5],[39,-7],[39.6,-10],[40.5,-15],[37,-17.8],[35,-20],[35.5,-24],[32.8,-26],[32,-29],[27,-34],[20,-34.8],[18.3,-34],[15,-27],[14.5,-22],[11.8,-17],[13.5,-12],[13,-8.5],[12.2,-6],[9,-1],[9.5,1],[9.7,3.8],[8.5,4.6],[6,4.3],[4.5,6.3],[1,5.9],[-2,4.8],[-4.5,5.2],[-7.5,4.4],[-9,5],[-11.5,6.9],[-13.3,9],[-15,10.9],[-16.7,12.4],[-17.5,14.7],[-16.3,19],[-17,21],[-16,23.7],[-14.5,26.1],[-13,27.7],[-10,29.5],[-9.7,31.5],[-6.9,34],[-5.9,35.8]]]}},
{"type":"Feature","geometry":{"type":"Polygon","coordinates":[[[8.6,53.9],[8.2,57],[10.6,57.7],[10.5,56],[10,54.5],[11,54],[14.2,53.9],[18.5,54.7],[21,55],[21,57],[24,57.5],[24,59.4],[28,59.6],[30,60],[30,65],[60,65],[60,25.3],[57,25.7],[56.3,27],[54,26.6],[51.5,27.9],[50,30],[48,30],[48.5,28.5],[50,26.5],[51.5,25.5],[51.3,24.3],[54,24.2],[56.3,26],[56.5,24.5],[58.7,23.6],[59.8,22.4],[57.8,19],[55,17],[52,15.6],[45,12.8],[43.4,12.7],[42.7,15],[42.8,16.5],[39,21],[37,25],[35,28],[34.9,29.5],[34.3,27.8],[33,29.9],[32.5,31.2],[34.2,31.3],[35,32.8],[36,35],[36.2,36.6],[34,36.3],[32,36.1],[30.5,36.8],[29,36.5],[27.4,37],[26.3,38.5],[26.2,39.9],[24,40.8],[23,40.4],[23.5,39.5],[24,38],[23.2,36.5],[22.3,36.6],[21.6,37.5],[20.3,39.5],[19.4,40.5],[19.5,42],[16,43.5],[14.5,45],[13.6,45.6],[12.3,45.3],[12.5,44],[14,42.4],[16,41.7],[18.4,40.1],[17,40.5],[16.6,38.8],[15.7,38],[16,39.5],[15,40.1],[12.5,41.4],[10.5,42.9],[8.8,44.4],[6,43.1],[3.2,43.2],[3.2,41.9],[0,39.7],[-0.5,38.3],[-2.1,36.8],[-5.4,36.1],[-6.4,36.9],[-9,37],[-9.5,38.8],[-8.8,41.5],[-9.2,43],[-8,43.7],[-3.5,43.5],[-1.6,43.4],[-1.2,46],[-2.5,47.3],[-4.7,48.3],[-1.6,48.7],[-1.5,49.6],[1.5,50.2],[3.5,51.4],[4.7,53],[7,53.5],[8.6,53.9]]]}},
{"type":"Feature","geometry":{"type":"Polygon","coordinates":[[[5.3,59],[6,62],[18,62],[18,59.5],[16.8,58],[16,56.2],[14.3,55.5],[12.7,56.2],[11.3,58.5],[11,59],[9,58.8],[7,58],[5.3,59]]]}},
{"type":"Feature","geometry":{"type":"Polygon","coordinates":[[[-5.5,50.1],[-3,51.4],[-5,51.7],[-4.3,53.3],[-3,53.5],[-3.2,55],[-5.5,55.5],[-5.5,58.5],[-3,58.6],[-2,57.5],[-2.5,56],[-1.3,54.8],[0.2,53.5],[1.7,52.7],[1,51.4],[1.3,51.1],[-1.5,50.7],[-5.5,50.1]]]}},
{"type":"Feature","geometry":{"type":"Polygon","coordinates":[[[-10,52],[-10,54.2],[-8,55.2],[-6,54.9],[-5.6,54.5],[-6.2,53],[-6.5,52.2],[-9.5,51.5],[-10,52]]]}},
{"type":"Feature","geometry":{"type":"Polygon","coordinates":[[[8.2,39],[8.3,41],[9.5,41],[9.6,39.2],[8.2,39]]]}},
{"type":"Feature","geometry":{"type":"Polygon","coordinates":[[[8.6,42],[9.3,43],[9.5,42],[9.2,41.4],[8.6,42]]]}},
{"type":"Feature","geometry":{"type":"Polygon","coordinates":[[[12.5,38],[15.6,38.2],[15.1,36.7],[12.5,37.6],[12.5,38]]]}},
{"type":"Feature","geometry":{"type":"Polygon","coordinates":[[[23.6,35.3],[26.3,35.2],[26.2,35],[23.6,35.2],[23.6,35.3]]]}},
{"type":"Feature","geometry":{"type":"Polygon","coordinates":[[[32.4,35],[33,35.3],[34.5,35.6],[33.9,35],[32.9,34.6],[32.4,35]]]}},
{"type":"Feature","geometry":{"type":"Polygon","coordinates":[[[2.4,39.6],[3.2,39.9],[3.3,39.4],[2.4,39.6]]]}},
{"type":"Feature","geometry":{"type":"Polygon","coordinates":[[[49.3,-12],[50.5,-15.5],[49,-18],[47.5,-25],[45,-25.5],[43.5,-22],[44.4,-16.2],[49.3,-12]]]}},
{"type":"Feature","geometry":{"type":"Polygon","coordinates":[[[-16.8,28.2],[-16.2,28.6],[-15.5,28.2],[-15.4,27.8],[-16.8,28.2]]]}}],
"seas":[
{"type":"Feature","geometry":{"type":"Polygon","coordinates":[[[28,42],[28.5,44],[30.6,46.5],[33,46],[32.6,45.3],[33.5,44.5],[35,45],[36.5,45.3],[38,47],[39,47],[38,45.5],[37,44.8],[39.5,43.5],[41.5,42.5],[41.5,41.5],[38,41],[35,42],[33,42],[31,41.2],[29,41.2],[28,42]]]}},
{"type":"Feature","geometry":{"type":"Polygon","coordinates":[[[47.5,43],[47,45],[49,46.6],[53,46.9],[51,45],[50.3,44.4],[51.2,43.3],[52.7,41.7],[53,39.5],[54,37],[51.5,36.6],[49.5,37.5],[49.3,40.3],[47.5,43]]]}}],
"borders":[{"type":"Feature","geometry":{"type":"MultiLineString","coordinates":[
[[-2,35.1],[-1.7,33],[-3.6,31],[-8.7,28.7]],[[-13,27.7],[-8.7,27.7],[-8.7,26],[-12,26],[-12,23.4],[-13,23],[-13,21.3],[-17,21.3]],[[-8.7,27.3],[-4.8,25],[1.2,21],[3.2,19.8],[3.2,19],[4.2,19.1]],[[-4.8,25],[-6.6,25],[-5.5,15.5],[-11.5,15.5],[-12.2,14.8]],[[-16.5,16],[-14,16.6],[-12.2,14.8],[-11.4,12.4],[-13.7,12.7],[-16.7,12.4]],[[-16.8,13.5],[-13.8,13.6]],[[-15,11],[-13.7,11.8],[-13.7,12.7]],[[-13.3,9],[-12.5,9.9],[-11,10],[-10.3,8.5],[-11.5,7]],[[-10.3,8.5],[-8.5,7.6],[-7.5,4.4]],[[-11.4,12.4],[-8.5,11],[-8.5,7.6]],[[-8.5,10.5],[-5.5,10.4],[-3,10.7]],[[-5.5,10.4],[-5.4,11.8],[-4.4,12.5],[-3,14],[-2,14.7],[0.2,15],[1,14],[2.3,12.7],[2.2,11.4],[0.9,11],[-2.9,11]],[[-2.9,11],[-2.8,9],[-3.1,5.1]],[[0.9,11],[0.2,9],[1,5.9]],[[0.9,11],[1.6,9],[1.7,6.2]],[[2.7,6.4],[3.5,10],[3.6,11.7],[2.3,12.7]],[[3.6,11.7],[4,13.5],[7,13],[10,13.3],[13.6,13.7]],[[0.2,15],[3.5,15.4],[4.2,19.1],[6,19.5],[12,23.5],[15,23]],[[15,23],[15.9,20.4],[15.5,16.9],[13.6,13.7]],[[8.5,36.9],[8.2,33],[9.5,30.2],[10,27],[12,23.5]],[[11.5,33.1],[10.2,32.2],[9.5,30.2]],[[15,23],[24,19.5],[24,20],[25,20],[25,31.6]],[[25,22],[36.9,22]],[[24,19.5],[22.9,15.5],[22,13],[23.5,10.8]],[[14,13],[15,10],[13.6,7],[15.5,7.5],[18.5,8.8],[23.5,10.8]],[[13.6,13.7],[14,12],[13,9],[11.5,6.5],[8.7,4.6]],[[15.5,7.5],[14.5,5],[16,2.2]],[[9.8,2.3],[16,2.2]],[[13.3,2.2],[14.5,-1],[14.3,-2.2],[11.5,-2.5],[11,-3.9]],[[12.2,-5.8],[13,-4.7],[16,-3.5],[17.7,-0.5],[18.6,3.5],[16,3.5]],[[18.6,3.5],[22,4.2],[25,5],[27.4,5]],[[23.5,10.8],[27,9.5],[33,9.5],[34,10.5],[36.5,14.3]],[[23.5,10.8],[23.5,8.7],[25,7],[27.4,5],[31,3.7],[34,4.2],[35.9,4.6]],[[34,10.5],[34,8.5],[33,7.7],[35,5.5],[35.9,4.6]],[[36.5,14.3],[37,17],[38.6,18]],[[36.5,14.3],[39,14.5],[43,12.4]],[[41.8,11],[43.2,11.5]],[[42.9,10.9],[44,9],[47.9,8],[44.9,5],[41.9,4],[41,2.8],[41,-0.8],[41.6,-1.7]],[[35.9,4.6],[39,3.4],[41.9,4]],[[34,4.2],[34,1],[34,-1],[37.6,-3],[39.2,-4.7]],[[31,3.7],[29.7,0],[29.6,-1.4],[29,-2.7],[29.4,-4.4],[29.3,-6.5],[31,-8.6],[33,-9.5],[34.8,-11.5],[40.4,-10.4]],[[30.4,-1],[34,-1]],[[29,-2.7],[30.8,-2.5],[30,-4.4],[29.4,-4.4]],[[33,-9.5],[33.3,-14],[35,-14.5],[35.8,-16],[35,-17],[34.7,-12],[34.8,-11.5]],[[22,-11],[24,-11],[27,-12],[28.5,-12.5],[29.8,-13.4],[28.4,-9],[31,-8.6]],[[12.2,-6],[16.5,-6],[18,-8],[22,-7.5],[22,-11],[24,-13],[22,-13],[22,-16],[23.4,-17.6]],[[11.8,-17.3],[23.4,-17.6],[30.2,-15.6],[33,-14]],[[30.2,-15.6],[33,-17],[32.8,-20]],
[[-8.8,41.9],[-6.5,41.8],[-7,39.5],[-7.4,37.2]],[[-1.7,43.4],[3.2,42.4]],[[2.5,51],[4.2,50],[6,49.5],[8.2,49],[7.6,47.6],[6,46.3],[7,45.9],[7,44.2],[7.5,43.8]],[[7.2,53.2],[6,51],[6,49.5]],[[3.5,51.4],[6,51]],[[8.6,54.9],[10,54.7]],[[14.2,53.9],[14.7,51],[12.1,50.3],[13.8,48.7],[13,47.6],[9.6,47.5],[7.6,47.6]],[[7,45.9],[9,46],[10.4,46.8],[9.6,47.5]],[[10.4,46.8],[12.3,47],[13.7,46.5],[13.6,45.6]],[[13.8,48.7],[15,49],[17,48.7],[17.1,48],[16.5,46.9],[13.7,46.5]],[[14.7,51],[18.8,49.5],[17,48.7]],[[18.8,49.5],[22.6,49.1],[24,50.6],[23.5,52],[23.8,54],[22.8,54.4],[19.8,54.4]],[[17.1,48],[20,48],[22.2,48.4],[22.6,49.1]],[[21,56.3],[26.5,55.7]],[[23.8,54],[25.5,54.3],[26.5,55.7],[28,56],[28,59.5]],[[24.4,58],[27.5,57.6]],[[23.5,51.6],[31,52],[33,52.3],[40,49.6],[38,47.1]],[[28,56],[31,55],[31,52]],[[22.2,48.4],[20.3,46.2]],[[22.2,48.4],[26.6,48.2],[28,46],[28.2,45.5],[29.7,45.3]],[[26.6,48.2],[29,47.9],[30,46.4],[28.2,45.5]],[[20.3,46.2],[22.5,44.3],[24,43.7],[27.5,44],[28.6,43.7]],[[22.5,44.3],[23,41.3],[26.3,41.7],[26,40.8]],[[28,42],[26.3,41.7]],[[16.5,46.5],[18.9,45.9],[20.3,46.2]],[[18.9,45.9],[19.4,44.9],[19,43.4],[19.4,42]],[[13.6,45.5],[16,46.3]],[[16,45.2],[19,45]],[[16,45.2],[16,43.5]],[[20.5,40],[21,40.9],[23,41.3]],[[19.5,42.5],[20.5,42],[21,40.9]],[[19.4,43],[22,42.3],[23,41.3]],[[36.2,36.6],[42.4,37.2],[44.8,37.2],[44.8,39.7],[43.5,41],[41.5,41.5]],[[40,43.4],[43,43.5],[46.5,41.9],[43.5,41]],[[46.5,41.9],[48.5,41.8]],[[44.8,39.7],[48.8,38.5]],[[49,46.3],[47,49],[47,51],[55,51],[61,54]],[[42.4,37.2],[41,34.4],[38.8,33.4]],[[36,34.6],[36.6,34.2],[35.8,33.3],[36,32.7],[38.8,33.4]],[[35,29.5],[35.5,31.5],[35.6,33]],[[34.2,31.3],[34.9,29.5]],[[35,29.4],[36,29.2],[37.5,30],[37.9,31],[39,32],[39.2,32.2]],[[39.2,32.2],[42,31],[44.7,29.2],[46.5,29.1],[48.4,28.5]],[[44.8,37.2],[46,35.5],[46,33],[48,31],[48.5,30]],[[54,37.3],[57,38],[61,36.5]],[[52.5,41.8],[56,41.3],[56,45],[61,44]],[[56,41.3],[58,42.8]],[[42.8,16.5],[45,17.4],[47,17],[52,19],[55,20],[55.6,22],[52,23],[51.6,24.5]],[[52,19],[53,16.7]],[[55.6,22],[55.2,24],[56.3,24.8]]]}}],
"pies":[
{"pop":"CEU","lon":13.97,"lat":50.43,"hap":"A , T","from":0,"to":0.004},{"pop":"CEU","lon":13.97,"lat":50.43,"hap":"G , C","from":0.004,"to":1},
{"pop":"MSL","lon":-11.41,"lat":7.83,"hap":"A , T","from":0,"to":0.155},{"pop":"MSL","lon":-11.41,"lat":7.83,"hap":"A , C","from":0.155,"to":0.185},{"pop":"MSL","lon":-11.41,"lat":7.83,"hap":"G , C","from":0.185,"to":1},
{"pop":"YRI","lon":4.13,"lat":7.05,"hap":"A , T","from":0,"to":0.155},{"pop":"YRI","lon":4.13,"lat":7.05,"hap":"A , C","from":0.155,"to":0.19},{"pop":"YRI","lon":4.13,"lat":7.05,"hap":"G , C","from":0.19,"to":1},
{"pop":"Gumuz","lon":34.8,"lat":14.17,"hap":"A , T","from":0,"to":0.72},{"pop":"Gumuz","lon":34.8,"lat":14.17,"hap":"G , C","from":0.72,"to":1},
{"pop":"Amhara","lon":37.72,"lat":8.16,"hap":"A , T","from":0,"to":0.21},{"pop":"Amhara","lon":37.72,"lat":8.16,"hap":"A , C","from":0.21,"to":0.222},{"pop":"Amhara","lon":37.72,"lat":8.16,"hap":"G , C","from":0.222,"to":1},
{"pop":"Somali","lon":47.43,"lat":10.1,"hap":"A , T","from":0,"to":0.28},{"pop":"Somali","lon":47.43,"lat":10.1,"hap":"A , C","from":0.28,"to":0.292},{"pop":"Somali","lon":47.43,"lat":10.1,"hap":"G , C","from":0.292,"to":1},
{"pop":"Wolayta","lon":32.48,"lat":4.66,"hap":"A , T","from":0,"to":0.25},{"pop":"Wolayta","lon":32.48,"lat":4.66,"hap":"G , C","from":0.25,"to":1},
{"pop":"LWK","lon":38.3,"lat":-0.97,"hap":"A , T","from":0,"to":0.165},{"pop":"LWK","lon":38.3,"lat":-0.97,"hap":"A , C","from":0.165,"to":0.245},{"pop":"LWK","lon":38.3,"lat":-0.97,"hap":"G , C","from":0.245,"to":1}],
"popLabels":[{"pop":"CEU","lon":17.52,"lat":48.74},{"pop":"MSL","lon":-7.91,"lat":6.41},{"pop":"YRI","lon":6.84,"lat":5.63},{"pop":"Gumuz","lon":39.85,"lat":12.62},{"pop":"Amhara","lon":43.35,"lat":6.6},{"pop":"Somali","lon":52.28,"lat":8.35},{"pop":"Wolayta","lon":38.3,"lat":2.91},{"pop":"LWK","lon":41.99,"lat":-2.72}]
},
"hconcat":[
{"bounds":"flush","spacing":46,"resolve":{"scale":{"color":"independent"}},"vconcat":[
{"width":581,"height":274,"layer":[
{"data":{"name":"lines"},"mark":{"type":"rule","color":"#dddddd","strokeWidth":1.3},"encoding":{"y":{"field":"ihs","type":"quantitative","scale":{"domain":[0,6]},"axis":null},"x":{"datum":-104.7,"type":"quantitative","scale":{"domain":[-106.3,368.9]},"axis":null},"x2":{"datum":353.4}}},
{"data":{"name":"thresh"},"mark":{"type":"rule","color":"#E8365F","strokeWidth":1.7,"strokeDash":[9,5]},"encoding":{"y":{"field":"ihs","type":"quantitative","scale":{"domain":[0,6]},"axis":null},"x":{"datum":-102.2,"type":"quantitative","scale":{"domain":[-106.3,368.9]},"axis":null},"x2":{"datum":351}}},
{"data":{"name":"bars"},"mark":{"type":"rect","color":"#A9041F","stroke":"#A9041F","strokeWidth":1},"encoding":{"x":{"field":"start","type":"quantitative","scale":{"domain":[-106.3,368.9]},"axis":null},"x2":{"field":"end"},"y":{"field":"gumuz","type":"quantitative","scale":{"domain":[0,1]},"axis":{"orient":"right","values":[0,0.2,0.4,0.6,0.8],"labelExpr":"datum.value==0?'0':format(datum.value,'.1f')","title":"Fst","titleFontSize":14,"titleFontWeight":"bold","titleColor":"#222","titlePadding":2,"labelFontSize":16.5,"labelFontWeight":"bold","labelColor":"#222","labelAlign":"right","labelPadding":40,"tickSize":-9,"tickColor":"#555","domainColor":"#555","domainWidth":1.3,"grid":false}},"y2":{"datum":0}}},
{"data":{"name":"bars"},"mark":{"type":"rect","color":"#2A62C9","stroke":"#2A62C9","strokeWidth":1},"encoding":{"x":{"field":"start","type":"quantitative","scale":{"domain":[-106.3,368.9]},"axis":null},"x2":{"field":"end"},"y":{"field":"ceu","type":"quantitative","scale":{"domain":[0,1]},"axis":null},"y2":{"datum":0}}},
{"data":{"name":"ceuDots"},"mark":{"type":"circle","color":"#000","size":7,"opacity":1},"encoding":{"x":{"field":"kb","type":"quantitative","scale":{"domain":[-106.3,368.9]},"axis":null},"y":{"field":"ihs","type":"quantitative","scale":{"domain":[0,6]},"axis":{"values":[0,1,2,3,4,5,6],"format":"d","title":"IHS","titleFontSize":14,"titleFontWeight":"bold","titleColor":"#222","titlePadding":0,"labelFontSize":16.5,"labelFontWeight":"bold","labelColor":"#222","labelPadding":8,"tickSize":9,"tickColor":"#555","domainColor":"#555","domainWidth":1.3,"grid":false}}}},
{"data":{"values":[{"kb":157.6,"ihs":4.22}]},"mark":{"type":"circle","color":"#000","size":45,"opacity":1},"encoding":{"x":{"field":"kb","type":"quantitative","scale":{"domain":[-106.3,368.9]},"axis":null},"y":{"field":"ihs","type":"quantitative","scale":{"domain":[0,6]},"axis":null}}},
{"data":{"values":[{"label":"Gumuz","kb":85.5,"ihs":5.1,"who":"a"},{"label":"/","kb":132.5,"ihs":5.1,"who":"s"},{"label":"CEU","kb":165,"ihs":5.1,"who":"b"}]},"mark":{"type":"text","font":"Lato","fontSize":29},"encoding":{"x":{"field":"kb","type":"quantitative","scale":{"domain":[-106.3,368.9]},"axis":null},"y":{"field":"ihs","type":"quantitative","scale":{"domain":[0,6]},"axis":null},"text":{"field":"label"},"color":{"field":"who","scale":{"domain":["a","s","b"],"range":["#B00020","#000000","#1040F0"]},"legend":null}}},
{"data":{"values":[{"label":"A","kb":-100.6,"ihs":6.9}]},"mark":{"type":"text","fontSize":33,"fontWeight":"bold","color":"#000"},"encoding":{"x":{"field":"kb","type":"quantitative","scale":{"domain":[-106.3,368.9]},"axis":null},"y":{"field":"ihs","type":"quantitative","scale":{"domain":[0,6]},"axis":null},"text":{"field":"label"}}}
],"resolve":{"scale":{"y":"independent"},"axis":{"y":"independent"}}},
{"bounds":"flush","spacing":9,"resolve":{"scale":{"color":"independent"}},"vconcat":[
{"width":581,"height":274,"layer":[
{"data":{"name":"lines"},"mark":{"type":"rule","color":"#dddddd","strokeWidth":1.3},"encoding":{"y":{"field":"ihs","type":"quantitative","scale":{"domain":[0,6]},"axis":null},"x":{"datum":-104.7,"type":"quantitative","scale":{"domain":[-106.3,368.9]},"axis":null},"x2":{"datum":353.4}}},
{"data":{"name":"thresh"},"mark":{"type":"rule","color":"#E8365F","strokeWidth":1.7,"strokeDash":[9,5]},"encoding":{"y":{"field":"ihs","type":"quantitative","scale":{"domain":[0,6]},"axis":null},"x":{"datum":-102.2,"type":"quantitative","scale":{"domain":[-106.3,368.9]},"axis":null},"x2":{"datum":351}}},
{"data":{"name":"bars"},"mark":{"type":"rect","color":"#A9041F","stroke":"#A9041F","strokeWidth":1},"encoding":{"x":{"field":"start","type":"quantitative","scale":{"domain":[-106.3,368.9]},"axis":null},"x2":{"field":"end"},"y":{"field":"gumuz","type":"quantitative","scale":{"domain":[0,1]},"axis":{"orient":"right","values":[0,0.2,0.4,0.6,0.8],"labelExpr":"datum.value==0?'0':format(datum.value,'.1f')","title":"Fst","titleFontSize":14,"titleFontWeight":"bold","titleColor":"#222","titlePadding":2,"labelFontSize":16.5,"labelFontWeight":"bold","labelColor":"#222","labelAlign":"right","labelPadding":40,"tickSize":-9,"tickColor":"#555","domainColor":"#555","domainWidth":1.3,"grid":false}},"y2":{"datum":0}}},
{"data":{"name":"bars"},"mark":{"type":"rect","color":"#2A62C9","stroke":"#2A62C9","strokeWidth":1},"encoding":{"x":{"field":"start","type":"quantitative","scale":{"domain":[-106.3,368.9]},"axis":null},"x2":{"field":"end"},"y":{"field":"yri","type":"quantitative","scale":{"domain":[0,1]},"axis":null},"y2":{"datum":0}}},
{"data":{"name":"yriDots"},"mark":{"type":"circle","color":"#000","size":7,"opacity":1},"encoding":{"x":{"field":"kb","type":"quantitative","scale":{"domain":[-106.3,368.9]},"axis":null},"y":{"field":"ihs","type":"quantitative","scale":{"domain":[0,6]},"axis":{"values":[0,1,2,3,4,5,6],"format":"d","title":"IHS","titleFontSize":14,"titleFontWeight":"bold","titleColor":"#222","titlePadding":0,"labelFontSize":16.5,"labelFontWeight":"bold","labelColor":"#222","labelPadding":8,"tickSize":9,"tickColor":"#555","domainColor":"#555","domainWidth":1.3,"grid":false}}}},
{"data":{"values":[{"kb":157.6,"ihs":3.44}]},"mark":{"type":"circle","color":"#000","size":45,"opacity":1},"encoding":{"x":{"field":"kb","type":"quantitative","scale":{"domain":[-106.3,368.9]},"axis":null},"y":{"field":"ihs","type":"quantitative","scale":{"domain":[0,6]},"axis":null}}},
{"data":{"values":[{"label":"Gumuz","kb":85.5,"ihs":5.4,"who":"a"},{"label":"/","kb":132.5,"ihs":5.4,"who":"s"},{"label":"YRI","kb":159.5,"ihs":5.4,"who":"b"}]},"mark":{"type":"text","font":"Lato","fontSize":29},"encoding":{"x":{"field":"kb","type":"quantitative","scale":{"domain":[-106.3,368.9]},"axis":null},"y":{"field":"ihs","type":"quantitative","scale":{"domain":[0,6]},"axis":null},"text":{"field":"label"},"color":{"field":"who","scale":{"domain":["a","s","b"],"range":["#B00020","#000000","#1040F0"]},"legend":null}}}
],"resolve":{"scale":{"y":"independent"},"axis":{"y":"independent"}}},
{"width":581,"height":149,"encoding":{"x":{"type":"quantitative","scale":{"domain":[-106.3,368.9]},"axis":null},"y":{"type":"quantitative","scale":{"domain":[5.75,-1.7]},"axis":null}},"layer":[
{"data":{"name":"mbTicks"},"mark":{"type":"rule","color":"#bdbdbd","strokeWidth":1},"encoding":{"x":{"field":"kb"},"y":{"field":"r1"},"y2":{"field":"r2"}}},
{"data":{"values":[{"from":-97.5,"to":347,"r":-0.5}]},"mark":{"type":"rule","color":"#bdbdbd","strokeWidth":3},"encoding":{"x":{"field":"from"},"x2":{"field":"to"},"y":{"field":"r"}}},
{"data":{"values":[{"from":347,"to":341.5,"r":-0.5,"r2":-0.72},{"from":-97.5,"to":-92,"r":-0.5,"r2":-0.25}]},"mark":{"type":"rule","color":"#bdbdbd","strokeWidth":1.5},"encoding":{"x":{"field":"from"},"x2":{"field":"to"},"y":{"field":"r"},"y2":{"field":"r2"}}},
{"data":{"name":"mbTicks"},"mark":{"type":"text","fontSize":12.5,"color":"#444"},"encoding":{"x":{"field":"kb"},"y":{"field":"r"},"text":{"field":"label"}}},
{"data":{"name":"introns"},"mark":{"type":"rule","color":"#F7B048","strokeWidth":1.2},"encoding":{"x":{"field":"start"},"x2":{"field":"end"},"y":{"field":"r"}}},
{"data":{"values":[{"kb":162.5,"r":5},{"kb":172,"r":5},{"kb":181.6,"r":5},{"kb":72.5,"r":2}]},"mark":{"type":"point","shape":"triangle-left","filled":true,"size":14,"color":"#F7A030","opacity":1},"encoding":{"x":{"field":"kb"},"y":{"field":"r"}}},
{"data":{"name":"exons"},"mark":{"type":"rect","height":16,"stroke":"#F6A58C","strokeWidth":0.6},"encoding":{"x":{"field":"start"},"x2":{"field":"end"},"y":{"field":"r"},"color":{"field":"kind","scale":{"domain":["cds","utr","rna"],"range":["#FF8A55","#FFCB8E","#F08E80"]},"legend":null}}},
{"data":{"name":"geneLabels"},"mark":{"type":"text","fontSize":11,"fontWeight":"bold","align":"right","color":"#222"},"encoding":{"x":{"field":"kb"},"y":{"field":"r"},"text":{"field":"gene"}}},
{"data":{"values":[{"t":"Genes","kb":-126.8,"r":2.95}]},"mark":{"type":"text","fontSize":13,"fontWeight":"bold","angle":270,"color":"#222"},"encoding":{"x":{"field":"kb"},"y":{"field":"r"},"text":{"field":"t"}}}
]},
{"width":581,"height":15,"encoding":{"x":{"type":"quantitative","scale":{"domain":[-36.3,142]},"axis":null},"y":{"type":"quantitative","scale":{"domain":[-1,1]},"axis":null}},"layer":[
{"data":{"name":"bands"},"mark":{"type":"rect"},"encoding":{"x":{"field":"start"},"x2":{"field":"end"},"y":{"datum":1},"y2":{"datum":-1},"color":{"field":"stain","scale":{"domain":["black","dark","mid","light"],"range":["#000000","#444444","#888888","#BBBBBB"]},"legend":null}}},
{"data":{"name":"arms"},"mark":{"type":"rect","fill":null,"stroke":"#555","strokeWidth":1,"cornerRadius":8},"encoding":{"x":{"field":"start"},"x2":{"field":"end"},"y":{"datum":1},"y2":{"datum":-1}}},
{"data":{"values":[{"mb":38,"hi":1,"lo":-1},{"mb":40.3,"hi":0,"lo":0},{"mb":42.6,"hi":1,"lo":-1}]},"mark":{"type":"area","color":"#8B1A1A","opacity":1},"encoding":{"x":{"field":"mb"},"y":{"field":"hi"},"y2":{"field":"lo"}}},
{"data":{"values":[{"mb":102,"lo":-1,"hi":2.25}]},"mark":{"type":"rule","color":"#F0503C","strokeWidth":2},"encoding":{"x":{"field":"mb"},"y":{"field":"hi"},"y2":{"field":"lo"}}},
{"data":{"values":[{"t":"Chromosome 10","mb":-20,"y":0}]},"mark":{"type":"text","fontSize":13,"color":"#333"},"encoding":{"x":{"field":"mb"},"y":{"field":"y"},"text":{"field":"t"}}}
]}
]}
]},
{"width":436,"height":400,"view":{"fill":"#DCDCDC","stroke":null},"projection":{"type":"equirectangular","center":[15,20],"scale":295,"translate":[218,202]},"layer":[
{"data":{"name":"land"},"mark":{"type":"geoshape","fill":"white","stroke":"#9a9a9a","strokeWidth":0.8,"clip":true}},
{"data":{"name":"seas"},"mark":{"type":"geoshape","fill":"#DCDCDC","stroke":"#9a9a9a","strokeWidth":0.6,"clip":true}},
{"data":{"name":"borders"},"mark":{"type":"geoshape","filled":false,"stroke":"#9a9a9a","strokeWidth":0.8,"clip":true}},
{"data":{"name":"pies"},"mark":{"type":"arc","innerRadius":0,"outerRadius":16,"stroke":"#555","strokeWidth":0.8},"encoding":{"longitude":{"field":"lon","type":"quantitative"},"latitude":{"field":"lat","type":"quantitative"},"theta":{"field":"from","type":"quantitative","stack":null,"scale":{"domain":[0,1],"range":[0,6.28318]}},"theta2":{"field":"to"},"color":{"field":"hap","type":"nominal","scale":{"domain":["A , T","G , T","A , C","G , C"],"range":["#5F9EA0","#CD2990","#FFA500","#F5DEB3"]},"legend":{"orient":"none","legendX":7,"legendY":282,"title":"Haplotypes","titleFontSize":14.5,"titleFontWeight":"normal","titleColor":"#111","titlePadding":6,"symbolType":"square","symbolSize":256,"symbolStrokeColor":"#333","symbolStrokeWidth":1,"symbolOpacity":1,"symbolOffset":6,"labelFont":"DejaVu Sans Mono","labelFontSize":10.5,"labelColor":"#333","labelOffset":17,"rowPadding":4,"padding":0}}}},
{"data":{"name":"popLabels"},"mark":{"type":"text","fontSize":15,"color":"#222"},"encoding":{"longitude":{"field":"lon","type":"quantitative"},"latitude":{"field":"lat","type":"quantitative"},"text":{"field":"pop"}}},
{"data":{"values":[{"t":"B","lon":-22.3,"lat":67.4}]},"mark":{"type":"text","fontSize":33,"fontWeight":"bold","color":"#000","clip":false},"encoding":{"longitude":{"field":"lon","type":"quantitative"},"latitude":{"field":"lat","type":"quantitative"},"text":{"field":"t"}}}
]}
],"spacing":26}
